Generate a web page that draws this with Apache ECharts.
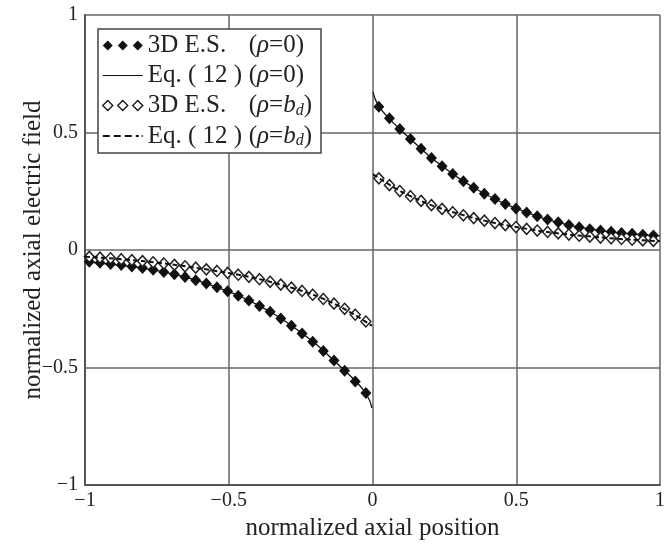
<!DOCTYPE html>
<html>
<head>
<meta charset="utf-8">
<script src="https://cdn.jsdelivr.net/npm/echarts@6/dist/echarts.min.js"></script>
<style>html,body{margin:0;padding:0;background:#fff}#c{width:668px;height:546px}</style>
</head>
<body>
<div id="c"></div>
<script>
// marker positions (normalized axial position)
const xPos = [0.022, 0.059, 0.095, 0.132, 0.169, 0.205, 0.242, 0.279, 0.316, 0.352, 0.389, 0.426, 0.462, 0.499, 0.536, 0.573, 0.609, 0.646, 0.683, 0.719, 0.756, 0.793, 0.830, 0.866, 0.903, 0.940, 0.977];
const xNeg = [-0.985, -0.948, -0.911, -0.874, -0.837, -0.800, -0.763, -0.726, -0.689, -0.652, -0.615, -0.578, -0.541, -0.504, -0.467, -0.430, -0.393, -0.356, -0.319, -0.282, -0.245, -0.208, -0.171, -0.134, -0.097, -0.060, -0.023];
// 3D E.S. (rho = 0)
const filledPos = [0.610, 0.561, 0.515, 0.472, 0.431, 0.392, 0.357, 0.324, 0.293, 0.265, 0.240, 0.217, 0.196, 0.177, 0.160, 0.144, 0.130, 0.118, 0.107, 0.097, 0.089, 0.083, 0.078, 0.073, 0.069, 0.065, 0.062];
const filledNeg = [-0.050, -0.054, -0.059, -0.064, -0.070, -0.076, -0.084, -0.093, -0.103, -0.115, -0.128, -0.142, -0.158, -0.175, -0.194, -0.215, -0.238, -0.263, -0.291, -0.322, -0.355, -0.390, -0.429, -0.470, -0.513, -0.559, -0.608];
// 3D E.S. (rho = b_d)
const openPos = [0.305, 0.276, 0.251, 0.229, 0.209, 0.191, 0.175, 0.161, 0.148, 0.136, 0.125, 0.115, 0.106, 0.098, 0.090, 0.083, 0.077, 0.071, 0.066, 0.061, 0.057, 0.053, 0.050, 0.047, 0.044, 0.041, 0.039];
const openNeg = [-0.029, -0.032, -0.035, -0.039, -0.043, -0.047, -0.052, -0.057, -0.063, -0.069, -0.075, -0.082, -0.089, -0.097, -0.105, -0.114, -0.124, -0.135, -0.147, -0.160, -0.174, -0.190, -0.208, -0.228, -0.250, -0.275, -0.304];
// Eq. (12) curves
const lineXPos = [0.002, 0.01, 0.03, 0.06, 0.1, 0.15, 0.2, 0.25, 0.3, 0.35, 0.4, 0.45, 0.5, 0.6, 0.7, 0.8, 0.9, 1.0];
const solidPos = [0.672, 0.640, 0.598, 0.556, 0.509, 0.452, 0.397, 0.350, 0.306, 0.267, 0.233, 0.203, 0.177, 0.133, 0.102, 0.082, 0.069, 0.060];
const dashedPos = [0.322, 0.316, 0.300, 0.277, 0.249, 0.219, 0.193, 0.172, 0.154, 0.137, 0.122, 0.109, 0.098, 0.078, 0.064, 0.053, 0.044, 0.038];
const lineXNeg = [-1.0, -0.9, -0.8, -0.7, -0.6, -0.5, -0.45, -0.4, -0.35, -0.3, -0.25, -0.2, -0.15, -0.1, -0.06, -0.03, -0.01, -0.002];
const solidNeg = [-0.049, -0.062, -0.077, -0.100, -0.133, -0.177, -0.203, -0.233, -0.267, -0.306, -0.350, -0.397, -0.452, -0.509, -0.556, -0.598, -0.640, -0.672];
const dashedNeg = [-0.028, -0.036, -0.047, -0.061, -0.078, -0.098, -0.109, -0.122, -0.137, -0.154, -0.172, -0.193, -0.219, -0.249, -0.277, -0.300, -0.316, -0.322];
const tickValues = [-1, -0.5, 0, 0.5, 1];

const pairs = (xs, ys) => xs.map((x, i) => [x, ys[i]]);
const FONT = 'Liberation Serif';
const TXT = '#222';
const fmt = v => (v < 0 ? '\u2212' + Math.abs(v) : String(v));

const legendRich = {
  a: {width: 101, fontSize: 25, fontFamily: FONT, color: TXT, lineHeight: 26},
  p: {fontSize: 25, fontFamily: FONT, color: TXT, lineHeight: 26},
  i: {fontSize: 25, fontFamily: FONT, fontStyle: 'italic', color: TXT, lineHeight: 26},
  s: {fontSize: 16, fontFamily: FONT, fontStyle: 'italic', color: TXT, lineHeight: 26, verticalAlign: 'bottom', padding: [7, 0, 0, 0]}
};
const legendText = {
  E0: '{a|3D E.S.}{p|(}{i|\u03c1}{p|=0)}',
  L0: '{a|Eq. ( 12 )}{p|(}{i|\u03c1}{p|=0)}',
  Eb: '{a|3D E.S.}{p|(}{i|\u03c1}{p|=}{i|b}{s|d}{p|)}',
  Lb: '{a|Eq. ( 12 )}{p|(}{i|\u03c1}{p|=}{i|b}{s|d}{p|)}'
};
const diamonds3 = 'path://M0,5L5,0L10,5L5,10Z M15,5L20,0L25,5L20,10Z M30,5L35,0L40,5L35,10Z';
const solidIcon = 'path://M0,4.4L40,4.4L40,5.6L0,5.6Z';
const dashIcon = 'path://M0,4L7,4L7,6L0,6Z M11,4L18,4L18,6L11,6Z M22,4L29,4L29,6L22,6Z M33,4L36,4L36,6L33,6Z M39,4L40,4L40,6L39,6Z';

const filledStyle = {color: '#111', opacity: 1};
const openStyle = {color: '#fff', borderColor: '#222', borderWidth: 1.5, opacity: 1};

const chart = echarts.init(document.getElementById('c'), null, {renderer: 'canvas'});
chart.setOption({
  animation: false,
  backgroundColor: '#fff',
  grid: {left: 85, right: 7, top: 15, bottom: 55, containLabel: false},
  xAxis: {
    type: 'value', min: -1, max: 1, interval: 0.5,
    name: 'normalized axial position', nameLocation: 'middle', nameGap: 26,
    nameTextStyle: {fontFamily: FONT, fontSize: 25, color: TXT},
    axisLine: {show: true, onZero: false, lineStyle: {color: '#555', width: 2}},
    axisTick: {show: false},
    axisLabel: {formatter: fmt, fontFamily: FONT, fontSize: 20, color: TXT, margin: 6, showMinLabel: true, showMaxLabel: true},
    splitLine: {show: true, lineStyle: {color: '#666', width: 1.5}}
  },
  yAxis: {
    type: 'value', min: -1, max: 1, interval: 0.5,
    name: 'normalized axial electric field', nameLocation: 'middle', nameGap: 39,
    nameMoveOverlap: false,
    nameTextStyle: {fontFamily: FONT, fontSize: 25, color: TXT},
    axisLine: {show: true, onZero: false, lineStyle: {color: '#555', width: 2}},
    axisTick: {show: false},
    axisLabel: {formatter: fmt, fontFamily: FONT, fontSize: 20, color: TXT, margin: 7, showMinLabel: true, showMaxLabel: true},
    splitLine: {show: true, lineStyle: {color: '#666', width: 1.5}}
  },
  legend: {
    orient: 'vertical', left: 98, top: 29,
    padding: [4, 9, 4, 4], itemGap: 5, itemWidth: 40, itemHeight: 10,
    backgroundColor: '#fff', borderColor: '#444', borderWidth: 1.5, borderRadius: 0,
    textStyle: {fontFamily: FONT, fontSize: 25, color: TXT, rich: legendRich},
    formatter: name => legendText[name],
    data: [
      {name: 'E0', icon: diamonds3, itemStyle: filledStyle},
      {name: 'L0', icon: solidIcon, itemStyle: {color: '#111', opacity: 1}},
      {name: 'Eb', icon: diamonds3, itemStyle: openStyle},
      {name: 'Lb', icon: dashIcon, itemStyle: {color: '#111', opacity: 1}}
    ]
  },
  series: [
    {name: 'E0', type: 'scatter', symbol: 'diamond', symbolSize: [11, 12], itemStyle: filledStyle, data: pairs(xNeg, filledNeg)},
    {name: 'E0', type: 'scatter', symbol: 'diamond', symbolSize: [11, 12], itemStyle: filledStyle, data: pairs(xPos, filledPos)},
    {name: 'Eb', type: 'scatter', symbol: 'diamond', symbolSize: [10, 11], itemStyle: openStyle, data: pairs(xNeg, openNeg)},
    {name: 'Eb', type: 'scatter', symbol: 'diamond', symbolSize: [10, 11], itemStyle: openStyle, data: pairs(xPos, openPos)},
    {name: 'L0', type: 'line', symbol: 'none', smooth: 0.3, lineStyle: {color: '#111', width: 1.3}, itemStyle: {color: '#111'}, data: pairs(lineXNeg, solidNeg)},
    {name: 'L0', type: 'line', symbol: 'none', smooth: 0.3, lineStyle: {color: '#111', width: 1.3}, itemStyle: {color: '#111'}, data: pairs(lineXPos, solidPos)},
    {name: 'Lb', type: 'line', symbol: 'none', smooth: 0.3, lineStyle: {color: '#111', width: 2, type: [5, 3]}, itemStyle: {color: '#111'}, data: pairs(lineXNeg, dashedNeg)},
    {name: 'Lb', type: 'line', symbol: 'none', smooth: 0.3, lineStyle: {color: '#111', width: 2, type: [5, 3]}, itemStyle: {color: '#111'}, data: pairs(lineXPos, dashedPos)}
  ]
});
</script>
</body>
</html>
